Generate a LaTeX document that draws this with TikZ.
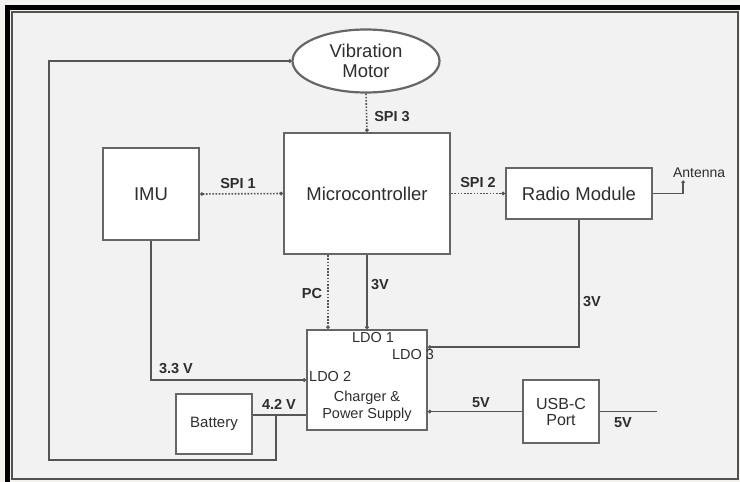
\documentclass[tikz,border=0pt]{standalone}
\usepackage{fontspec}
\setmainfont{Liberation Sans}
\usetikzlibrary{arrows.meta,positioning,calc,shapes.geometric}
\definecolor{page}{HTML}{F4F2EE}
\definecolor{panel}{HTML}{F2F2F2}
\definecolor{edge}{HTML}{666666}
\definecolor{wire}{HTML}{555555}
\definecolor{ink}{HTML}{2E2E2E}
\tikzset{
  box/.style={draw=edge, fill=white, line width=2.2pt, inner sep=0pt,
              text=ink, align=center, font=\fontsize{18.5}{21}\selectfont},
  motor/.style={box, ellipse},
  wire/.style={draw=wire, line width=1.8pt},
  bus/.style={wire, line width=1.6pt, dash pattern=on 1.6pt off 1.6pt},
  blob/.style={-{Circle[length=3.4pt]}},
  tag/.style={font=\bfseries\fontsize{14.5}{16}\selectfont, text=ink, inner sep=0pt},
  inlabel/.style={font=\fontsize{14.5}{17}\selectfont, text=ink, inner sep=0pt, align=center}
}
\begin{document}
\begin{tikzpicture}[x=1pt,y=-1pt]
  \useasboundingbox (0,0) rectangle (740,482);
  % frame
  \fill[page] (0,0) rectangle (740,482);
  \fill[panel] (12,12) rectangle (737,478);
  \draw[edge!80!black, line width=2pt] (12,12) rectangle (737.5,479);
  \draw[black, line width=5pt] (7.5,482) -- (7.5,7.5) -- (740,7.5);
  % blocks
  \node[motor, minimum width=147pt, minimum height=63pt] (vib) at (366,61) {Vibration\\[-1pt]Motor};
  \node[box, minimum width=166pt, minimum height=121pt] (mcu) at (367,193.5) {Microcontroller};
  \node[box, minimum width=96pt, minimum height=92pt] (imu) at (151,194) {IMU};
  \node[box, minimum width=146pt, minimum height=51pt] (radio) at (579,193.5) {Radio Module};
  \node[box, minimum width=120pt, minimum height=100pt] (psu) at (367,380) {};
  \node[box, minimum width=76pt, minimum height=60pt, font=\fontsize{15}{17}\selectfont] (bat) at (214,424) {Battery};
  \node[box, minimum width=76pt, minimum height=63pt, font=\fontsize{16}{16}\selectfont] (usb) at (561,411.5) {USB-C\\Port};
  % text inside the supply block
  \node[inlabel] (psutxt) at (367,406) {Charger \&\\Power Supply};
  \node[inlabel] (ldo1) at (373,338) {LDO 1};
  \node[inlabel] (ldo3) at (413,355) {LDO 3};
  \node[inlabel, anchor=west] (ldo2) at (309,377) {LDO 2};
  % serial buses
  \draw[bus, {Circle[length=3.4pt]}-{Circle[length=3.4pt]}] (imu.east) -- (mcu.west);
  \draw[bus, blob] (mcu.east) -- (radio.west);
  \draw[bus, blob] (vib.south) -- (mcu.north);
  \draw[bus, blob] ([xshift=-39pt]mcu.south) -- ([xshift=-39pt]psu.north);
  \node[tag] (spi1) at (238,184) {SPI 1};
  \node[tag] (spi2) at (478,183) {SPI 2};
  \node[tag] (spi3) at (392,117) {SPI 3};
  \node[tag] (pc) at (312,294) {PC};
  % supply rails
  \draw[wire, blob] (mcu.south) -- (psu.north);
  \draw[wire, blob] (radio.south) |- ([yshift=33pt]psu.east);
  \draw[wire, blob] (imu.south) |- (psu.west);
  \draw[wire] ([yshift=9pt]bat.east) -- ([yshift=9pt]bat.east -| psu.west);
  \draw[wire, blob] (usb.west) -- (usb.west -| psu.east);
  \draw[wire] (usb.east) -- ++(57,0);
  \node[tag] (v3a) at (380,285) {3V};
  \node[tag] (v3b) at (592,302) {3V};
  \node[tag] (v33) at (176,369) {3.3 V};
  \node[tag] (v42) at (279,404) {4.2 V};
  \node[tag] (v5a) at (481,403) {5V};
  \node[tag] (v5b) at (623,423) {5V};
  % battery back to the motor
  \coordinate (fb) at (276,415);
  \draw[wire, blob] (fb) |- (49,460) |- (vib.west);
  % antenna stub
  \draw[wire, line width=1.5pt, blob] (radio.east) -- ++(30,0) -- ++(0,-13) coordinate (ant);
  \node[inlabel, font=\fontsize{14}{16}\selectfont, anchor=south] (anttxt) at ([xshift=16pt,yshift=3pt]ant) {Antenna};
\end{tikzpicture}
\end{document}
